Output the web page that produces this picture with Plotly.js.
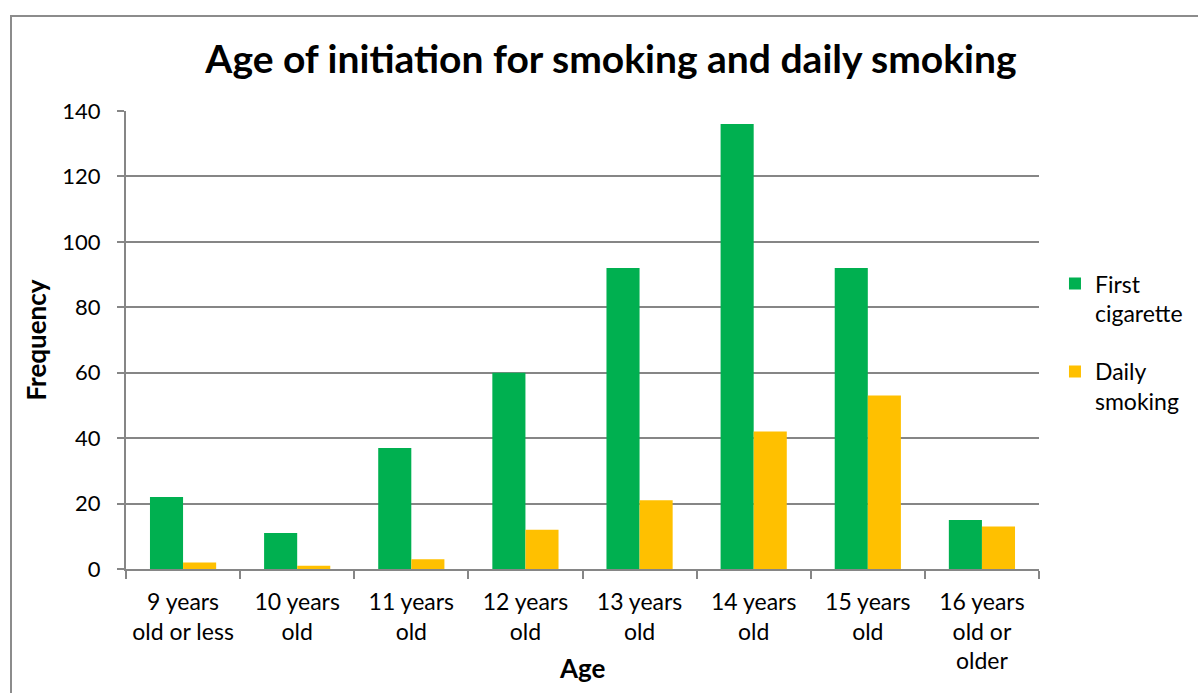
<!DOCTYPE html>
<html>
<head>
<meta charset="utf-8">
<script src="https://cdn.plot.ly/plotly-3.0.1.min.js"></script>
<style>
html,body{margin:0;padding:0;background:#fff;}
#wrap{position:relative;width:1198px;height:693px;}
#chart{width:1198px;height:693px;}
#frame{position:absolute;left:10px;top:15px;width:1200px;height:700px;border:2px solid #8c8c8c;pointer-events:none;box-sizing:border-box;}
</style>
</head>
<body>
<div id="wrap"><div id="chart"></div><div id="frame"></div></div>
<script>
const categories = ["9 years<br>old or less","10 years<br>old","11 years<br>old","12 years<br>old","13 years<br>old","14 years<br>old","15 years<br>old","16 years<br>old or<br>older"];
const firstCigarette = [22, 11, 37, 60, 92, 136, 92, 15];
const dailySmoking = [2, 1, 3, 12, 21, 42, 53, 13];
const seriesNames = ["First<br>cigarette", "Daily<br>smoking"];
const yTicks = [0, 20, 40, 60, 80, 100, 120, 140];

const FONT = "Lato, 'Open Sans', sans-serif";
const traces = [
  {type:"bar", name:seriesNames[0], legendgroup:"g1", x:categories, y:firstCigarette, marker:{color:"#00b050"}},
  {type:"bar", name:seriesNames[1], legendgroup:"g2", x:categories, y:dailySmoking, marker:{color:"#ffc000"}}
];
const layout = {
  width:1198, height:693,
  margin:{l:126, r:159, t:111, b:124, autoexpand:false},
  paper_bgcolor:"#fff", plot_bgcolor:"#fff",
  font:{family:FONT, size:23, color:"#000"},
  title:{text:"<b>Age of initiation for smoking and daily smoking</b>", font:{family:FONT, size:39, color:"#000"}, x:0.51, xanchor:"center", y:0.915, yanchor:"middle"},
  barmode:"group", bargap:0.42, bargroupgap:0,
  showlegend:true,
  legend:{x:1.0175, xanchor:"left", y:0.67, yanchor:"top", valign:"top", font:{family:FONT, size:23}, traceorder:"grouped", tracegroupgap:25, itemwidth:30},
  annotations:[{text:"<b>Age</b>", xref:"paper", yref:"paper", x:0.5, y:-0.216, xanchor:"center", yanchor:"middle", showarrow:false, font:{family:FONT, size:26, color:"#000"}}],
  xaxis:{
    showline:true, linecolor:"#868686", linewidth:2,
    ticks:"outside", tickson:"boundaries", ticklen:8, tickcolor:"#868686", tickwidth:2,
    ticklabelstandoff:11,
    tickfont:{family:FONT, size:23}, showgrid:false
  },
  yaxis:{
    title:{text:"<b>Frequency</b>", font:{family:FONT, size:26}, standoff:8},
    range:[0,140], tickvals:yTicks, ticktext:yTicks.map(String),
    showline:true, linecolor:"#868686", linewidth:2,
    ticks:"outside", ticklen:7, tickcolor:"#868686", tickwidth:2,
    ticklabelstandoff:12,
    showgrid:true, gridcolor:"#868686", gridwidth:2, zeroline:false,
    tickfont:{family:FONT, size:22}
  }
};
Plotly.newPlot("chart", traces, layout, {displayModeBar:false, staticPlot:true});
</script>
</body>
</html>
